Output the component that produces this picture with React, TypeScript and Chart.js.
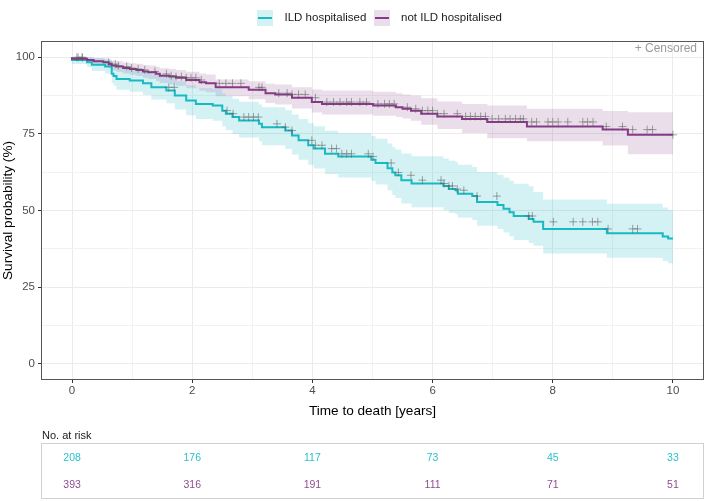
import React, { useEffect, useRef } from "react";
import { Chart, registerables } from "chart.js";

Chart.register(...registerables);

const FONT = "'Liberation Sans', Arial, Helvetica, sans-serif";

const groupLabels = ["ILD hospitalised", "not ILD hospitalised"];
const lineColors = ["#19B9C4", "#853A87"];
const bandColors = ["rgba(25,185,196,0.19)", "rgba(133,58,135,0.17)"];
const riskColors = ["#2CC0CA", "#8E4D90"];
const censorColor = "rgba(90,90,90,0.55)";

// ILD hospitalised: step times, survival (%), 95% CI
const ildTimes = [0, 0.25, 0.33, 0.55, 0.66, 0.69, 0.74, 0.96, 1.18, 1.32, 1.57, 1.71, 1.9, 2.06, 2.34, 2.5, 2.56, 2.67, 2.78, 3.11, 3.16, 3.55, 3.66, 3.77, 3.93, 4.02, 4.21, 4.43, 4.98, 5.05, 5.25, 5.33, 5.38, 5.48, 5.65, 6.18, 6.27, 6.38, 6.42, 6.66, 6.74, 7.08, 7.18, 7.28, 7.35, 7.6, 7.68, 7.84, 8.9, 9.83, 9.92, 9.97, 10.0];
const ildSurv = [100, 99.1, 98.4, 97.6, 97.0, 94.6, 93.9, 92.9, 92.4, 91.5, 90.2, 89.2, 87.5, 85.9, 84.8, 84.3, 82.6, 81.6, 80.5, 79.4, 78.3, 77.2, 76.1, 74.5, 72.9, 71.3, 70.2, 68.5, 67.6, 66.6, 65.5, 63.8, 62.4, 61.5, 59.9, 58.8, 58.0, 57.0, 56.6, 55.5, 54.7, 52.8, 51.8, 50.6, 49.4, 48.2, 47.2, 46.3, 44.0, 42.6, 41.5, 40.9, 40.9];
const ildLower = [100, 97.8, 96.8, 95.5, 94.7, 91.6, 90.7, 89.4, 88.8, 87.7, 86.2, 85.0, 83.0, 81.1, 79.9, 79.3, 77.4, 76.3, 75.0, 73.8, 72.6, 71.3, 70.1, 68.3, 66.6, 64.9, 63.7, 61.9, 60.8, 59.7, 58.5, 56.6, 55.1, 54.1, 52.3, 51.1, 50.2, 49.2, 48.8, 47.7, 46.9, 45.0, 44.0, 42.8, 41.6, 40.4, 39.4, 38.5, 36.0, 34.6, 33.5, 32.8, 32.8];
const ildUpper = [100, 100, 100, 99.7, 99.3, 97.7, 97.2, 96.5, 96.1, 95.4, 94.4, 93.6, 92.2, 90.9, 90.0, 89.6, 88.2, 87.4, 86.5, 85.5, 84.6, 83.7, 82.7, 81.3, 79.9, 78.5, 77.5, 76.0, 75.2, 74.3, 73.4, 71.9, 70.7, 69.9, 68.6, 67.7, 67.0, 66.2, 65.8, 64.9, 64.2, 62.6, 61.7, 60.7, 59.7, 58.7, 57.9, 56.0, 53.6, 52.2, 51.0, 50.2, 50.2];
const ildCensor = [0.1, 0.17, 1.61, 1.7, 2.58, 2.68, 2.86, 2.94, 3.02, 3.1, 3.41, 3.55, 3.66, 3.99, 4.05, 4.16, 4.32, 4.4, 4.49, 4.57, 4.65, 4.93, 5.01, 5.31, 5.43, 5.64, 5.83, 6.14, 6.19, 6.27, 6.33, 6.41, 6.52, 6.74, 7.07, 7.6, 7.66, 8.01, 8.34, 8.5, 8.66, 8.75, 8.92, 9.33, 9.41];

// not ILD hospitalised
const notTimes = [0, 0.25, 0.36, 0.52, 0.61, 0.66, 0.74, 0.85, 0.96, 1.07, 1.18, 1.27, 1.4, 1.46, 1.62, 1.73, 1.9, 2.12, 2.23, 2.39, 2.94, 3.22, 3.38, 3.66, 3.99, 4.16, 5.01, 5.39, 5.5, 5.64, 5.81, 6.08, 6.49, 6.91, 7.57, 8.83, 9.25, 9.74, 10.0];
const notSurv = [100, 99.5, 99.1, 98.7, 98.4, 97.8, 97.3, 97.0, 96.5, 96.2, 95.9, 95.4, 95.1, 94.6, 94.0, 93.7, 93.3, 92.6, 91.9, 91.5, 90.2, 89.4, 88.3, 87.9, 86.8, 85.4, 84.8, 84.3, 83.7, 83.2, 82.6, 81.6, 80.7, 79.9, 78.9, 77.4, 76.4, 74.7, 74.7];
const notLower = [100, 98.8, 98.2, 97.5, 97.1, 96.4, 95.7, 95.3, 94.7, 94.3, 93.9, 93.3, 92.9, 92.3, 91.6, 91.2, 90.7, 89.9, 89.1, 88.6, 87.3, 86.3, 85.1, 84.6, 83.3, 82.0, 81.3, 80.9, 80.5, 80.0, 79.3, 78.0, 76.6, 75.3, 73.6, 72.6, 71.2, 68.4, 68.4];
const notUpper = [100, 100, 100, 99.8, 99.6, 99.2, 98.9, 98.7, 98.3, 98.1, 97.9, 97.5, 97.3, 96.9, 96.4, 96.2, 95.9, 95.3, 94.7, 94.4, 92.8, 92.2, 91.4, 91.1, 90.2, 89.5, 89.2, 88.8, 88.3, 87.9, 87.5, 86.6, 85.6, 84.8, 84.3, 83.2, 82.5, 82.1, 82.1];
const notCensor = [0.08, 0.17, 0.61, 0.72, 0.77, 0.91, 0.99, 1.1, 1.21, 1.38, 1.57, 1.65, 1.73, 1.82, 1.9, 1.98, 2.06, 2.15, 2.45, 2.56, 2.67, 2.81, 3.11, 3.16, 3.44, 3.58, 3.66, 3.77, 3.88, 4.05, 4.24, 4.35, 4.46, 4.57, 4.65, 4.79, 4.9, 5.09, 5.2, 5.28, 5.36, 5.58, 5.72, 5.83, 5.92, 6.0, 6.08, 6.19, 6.41, 6.55, 6.63, 6.71, 6.8, 6.88, 6.99, 7.1, 7.21, 7.29, 7.38, 7.46, 7.51, 7.65, 7.73, 7.92, 8.0, 8.09, 8.25, 8.5, 8.58, 8.67, 8.89, 9.16, 9.33, 9.57, 9.66, 10.0];

// axes
const xTickValues = [0, 1, 2, 3, 4, 5, 6, 7, 8, 9, 10];
const yTickValues = [0, 12.5, 25, 37.5, 50, 62.5, 75, 87.5, 100];

// risk table
const riskTimes = [0, 2, 4, 6, 8, 10];
const ildRisk = [208, 176, 117, 73, 45, 33];
const notRisk = [393, 316, 191, 111, 71, 51];

function stepValue(times: number[], vals: number[], t: number) {
  let v = vals[0];
  for (let i = 0; i < times.length; i++) if (times[i] <= t) v = vals[i];
  return v;
}
const pts = (times: number[], vals: number[]) => times.map((t, i) => ({ x: t, y: vals[i] }));
const censorPts = (cens: number[], times: number[], vals: number[]) =>
  cens.map((t) => ({ x: t, y: stepValue(times, vals, t) }));

const decor = {
  id: "decor",
  afterDraw(chart: any) {
    const { ctx, chartArea: ca, scales } = chart;
    const xs = scales.x;
    ctx.save();
    // panel border
    ctx.strokeStyle = "#555555";
    ctx.lineWidth = 1;
    ctx.strokeRect(ca.left - 0.5, ca.top - 0.5, ca.right - ca.left + 1, ca.bottom - ca.top + 1);

    // + Censored
    ctx.font = `12px ${FONT}`;
    ctx.fillStyle = "#9A9A9A";
    ctx.textAlign = "right";
    ctx.textBaseline = "middle";
    ctx.fillText("+ Censored", ca.right - 6, ca.top + 7);

    // legend
    const keys = [
      { x: 257, tx: 284.5 },
      { x: 374, tx: 401 },
    ];
    const ks = 16;
    const cy = 18;
    keys.forEach((k, i) => {
      ctx.fillStyle = bandColors[i];
      ctx.fillRect(k.x, cy - ks / 2, ks, ks);
      ctx.strokeStyle = lineColors[i];
      ctx.lineWidth = 2;
      ctx.beginPath();
      ctx.moveTo(k.x + 1, cy);
      ctx.lineTo(k.x + ks - 1, cy);
      ctx.stroke();
      ctx.fillStyle = "#1A1A1A";
      ctx.font = `11.5px ${FONT}`;
      ctx.textAlign = "left";
      ctx.textBaseline = "middle";
      ctx.fillText(groupLabels[i], k.tx, cy);
    });

    // risk table
    ctx.font = `11px ${FONT}`;
    ctx.fillStyle = "#1A1A1A";
    ctx.textAlign = "left";
    ctx.textBaseline = "middle";
    ctx.fillText("No. at risk", 42, 436);
    ctx.strokeStyle = "#D0D0D0";
    ctx.lineWidth = 1;
    ctx.strokeRect(41.5, 443.5, 662, 55);
    ctx.font = `10.5px ${FONT}`;
    ctx.textAlign = "center";
    riskTimes.forEach((t, i) => {
      const px = xs.getPixelForValue(t);
      ctx.fillStyle = riskColors[0];
      ctx.fillText(String(ildRisk[i]), px, 458);
      ctx.fillStyle = riskColors[1];
      ctx.fillText(String(notRisk[i]), px, 485);
    });
    ctx.restore();
  },
};

export default function App() {
  const ref = useRef<HTMLCanvasElement | null>(null);
  useEffect(() => {
    if (!ref.current) return;
    Chart.defaults.font.family = FONT;
    const noLine = "rgba(0,0,0,0)";
    const censorDs = (label: string, data: any[]) => ({
      label,
      data,
      showLine: false,
      pointStyle: "cross",
      pointRadius: 4,
      borderColor: censorColor,
      backgroundColor: censorColor,
      borderWidth: 1,
    });
    const bandDs = (label: string, data: any[], fill: any, bg?: string) => ({
      label,
      data,
      stepped: "after",
      borderColor: noLine,
      borderWidth: 1,
      pointRadius: 0,
      fill,
      backgroundColor: bg || noLine,
    });
    const chart = new Chart(ref.current, {
      type: "line",
      data: {
        datasets: [
          censorDs("ildCensor", censorPts(ildCensor, ildTimes, ildSurv)),
          censorDs("notCensor", censorPts(notCensor, notTimes, notSurv)),
          {
            label: groupLabels[1],
            data: pts(notTimes, notSurv),
            stepped: "after",
            borderColor: lineColors[1],
            borderWidth: 2,
            pointRadius: 0,
            fill: false,
          },
          {
            label: groupLabels[0],
            data: pts(ildTimes, ildSurv),
            stepped: "after",
            borderColor: lineColors[0],
            borderWidth: 2,
            pointRadius: 0,
            fill: false,
          },
          bandDs("ildUpper", pts(ildTimes, ildUpper), 5, bandColors[0]),
          bandDs("ildLower", pts(ildTimes, ildLower), false),
          bandDs("notUpper", pts(notTimes, notUpper), 7, bandColors[1]),
          bandDs("notLower", pts(notTimes, notLower), false),
        ] as any,
      },
      options: {
        animation: false,
        responsive: false,
        devicePixelRatio: 1,
        layout: { padding: { top: 42, right: 1, bottom: 82, left: 0 } },
        plugins: { legend: { display: false }, tooltip: { enabled: false } },
        events: [],
        scales: {
          x: {
            type: "linear",
            min: -0.5,
            max: 10.5,
            afterBuildTicks: (a: any) => {
              a.ticks = xTickValues.map((v) => ({ value: v }));
            },
            afterFit: (a: any) => {
              a.height = 40;
            },
            ticks: {
              autoSkip: false,
              maxRotation: 0,
              padding: 1,
              color: "#4D4D4D",
              font: { size: 11.5 },
              callback: (v: any) => (Number(v) % 2 === 0 ? String(v) : ""),
            },
            grid: {
              color: (c: any) => (c.tick && c.tick.value % 2 === 0 ? "#EBEBEB" : "#F2F2F2"),
              lineWidth: 1,
              tickLength: 4,
              tickWidth: 1,
              tickColor: (c: any) => (c.tick && c.tick.value % 2 === 0 ? "#333333" : "rgba(0,0,0,0)"),
            },
            border: { display: false },
            title: {
              display: true,
              text: "Time to death [years]",
              color: "#000000",
              font: { size: 13.6 },
              padding: { top: 0, bottom: 0 },
            },
          },
          y: {
            type: "linear",
            min: -5,
            max: 105,
            afterBuildTicks: (a: any) => {
              a.ticks = yTickValues.map((v) => ({ value: v }));
            },
            afterFit: (a: any) => {
              a.width = 42;
            },
            ticks: {
              autoSkip: false,
              padding: 3,
              color: "#4D4D4D",
              font: { size: 11.5 },
              callback: (v: any) => (Number(v) % 25 === 0 ? String(v) : ""),
            },
            grid: {
              color: (c: any) => (c.tick && c.tick.value % 25 === 0 ? "#EBEBEB" : "#F2F2F2"),
              lineWidth: 1,
              tickLength: 4,
              tickWidth: 1,
              tickColor: (c: any) => (c.tick && c.tick.value % 25 === 0 ? "#333333" : "rgba(0,0,0,0)"),
            },
            border: { display: false },
            title: {
              display: true,
              text: "Survival probability (%)",
              color: "#000000",
              font: { size: 13.6 },
              padding: { top: 0, bottom: 0 },
            },
          },
        },
      } as any,
      plugins: [decor],
    });
    return () => chart.destroy();
  }, []);

  return (
    <div style={{ position: "fixed", left: 0, top: 0, width: 708, height: 501, background: "#ffffff" }}>
      <canvas ref={ref} width={708} height={501} style={{ width: 708, height: 501, display: "block" }} />
    </div>
  );
}
